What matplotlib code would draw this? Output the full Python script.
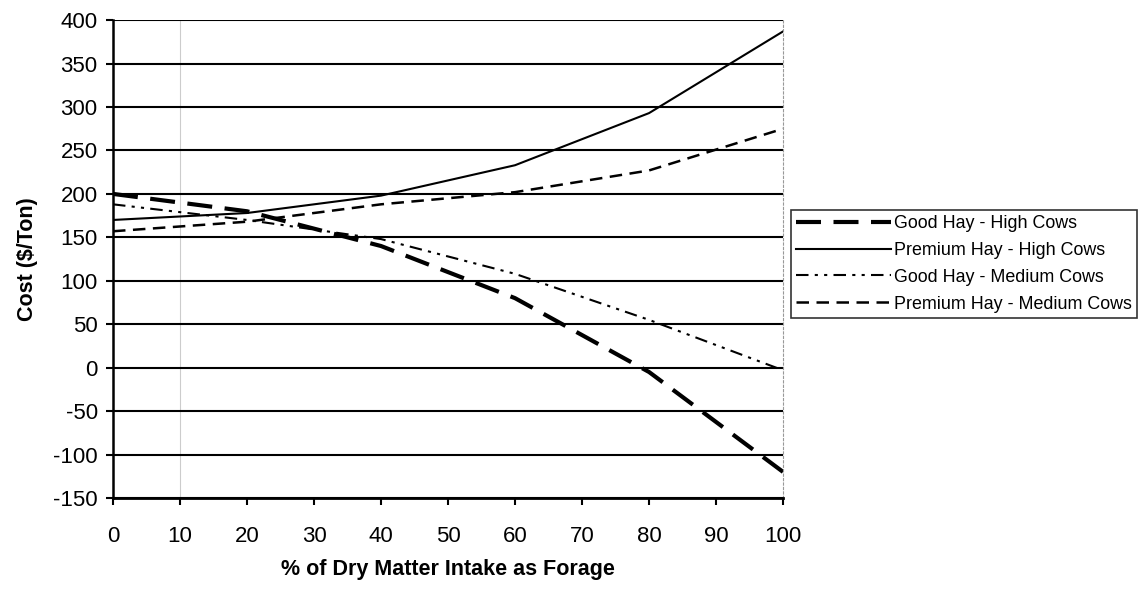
import matplotlib.pyplot as plt

plt.rcParams['font.family'] = ['Liberation Sans', 'DejaVu Sans']
plt.rcParams['axes.unicode_minus'] = False

# dados
forage = [0, 20, 40, 60, 80, 100]
good_high = [200, 180, 140, 80, -5, -120]
premium_high = [170, 178, 198, 233, 293, 387]
good_medium = [188, 170, 148, 108, 55, -3]
premium_medium = [157, 168, 188, 202, 227, 275]

fig = plt.figure(figsize=(11.39, 5.92), dpi=100)
ax = fig.add_axes([0.0992, 0.1588, 0.5883, 0.8072])

ax.plot(forage, good_high, color='black', lw=3, ls=(0, (6, 3)), label='Good Hay - High Cows')
ax.plot(forage, premium_high, color='black', lw=1.5, ls='-', label='Premium Hay - High Cows')
ax.plot(forage, good_medium, color='black', lw=1.5, ls=(0, (6, 3, 1.5, 3, 1.5, 3)), label='Good Hay - Medium Cows')
ax.plot(forage, premium_medium, color='black', lw=1.8, ls=(0, (5, 3)), label='Premium Hay - Medium Cows')

ax.set_xlim(0, 100)
ax.set_ylim(-150, 400)
ax.set_xticks(range(0, 101, 10))
ax.set_yticks(range(-150, 401, 50))
ax.yaxis.grid(True, color='black', lw=1.5)
ax.set_axisbelow(True)
ax.axvline(10, color='#cccccc', lw=0.8, zorder=0)

ax.spines['top'].set_visible(False)
ax.spines['right'].set_color('#999999')
ax.spines['right'].set_linestyle((0, (2, 2)))
ax.spines['right'].set_linewidth(0.8)
ax.spines['left'].set_linewidth(1.8)
ax.spines['bottom'].set_linewidth(2)
ax.tick_params(labelsize=16, width=1.5, length=5, direction='out')
ax.tick_params(axis='x', pad=15)
ax.tick_params(axis='y', pad=6)

ax.set_xlabel('% of Dry Matter Intake as Forage', fontsize=15.5, fontweight='bold', labelpad=9)
ax.set_ylabel('Cost ($/Ton)', fontsize=15.5, fontweight='bold', labelpad=11)

leg = ax.legend(loc='center left', bbox_to_anchor=(1.012, 0.49), fontsize=12.9,
                frameon=True, fancybox=False, handlelength=5.3, handletextpad=0.15,
                borderaxespad=0, labelspacing=0.55, borderpad=0.3)
leg.get_frame().set_edgecolor('black')
leg.get_frame().set_linewidth(1.2)

plt.savefig('out.png', dpi=100)
